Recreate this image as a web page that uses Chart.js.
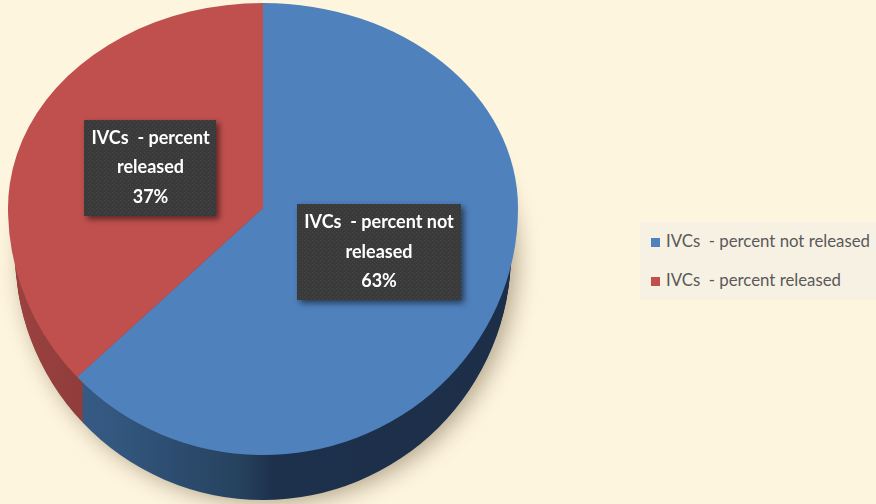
<!DOCTYPE html>
<html><head><meta charset="utf-8">
<script src="https://cdn.jsdelivr.net/npm/chart.js@4"></script>
<style>
html,body{margin:0;padding:0;background:#FEF5DF;}
#wrap{position:relative;width:876px;height:504px;overflow:hidden;background:#FEF5DF;}
#c{position:absolute;left:0;top:0;}
#legend{position:absolute;left:640px;top:222px;width:236px;height:78px;background:#F7F1E3;font-family:Lato,"Open Sans",sans-serif;font-size:16.8px;color:#595959;}
.item{position:absolute;left:11px;white-space:pre;line-height:18px;height:18px;}
.sw{display:inline-block;width:9px;height:9px;margin-right:6px;vertical-align:0px;}
</style>
</head><body>
<div id="wrap"><canvas id="c" width="876" height="504"></canvas><div id="legend"></div></div>
<script>
const categories = ["IVCs  - percent not released", "IVCs  - percent released"];
const values = [63, 37];
const colors = ["#4F81BD", "#C0504D"];

// 3D look: horizontal radius, upper/lower vertical radii (perspective), wall depth
const RX = 255, RX_WALL = 248, RY_UP = 205, RY_DOWN = 247, DEPTH = 45;
const labelPos = [[0.455, 0.178], [-0.441, -0.198]];

function sideFill(ctx, i, r) {
  const g = ctx.createLinearGradient(-r, 0, r, 0);
  if (i === 0) {
    g.addColorStop(0, "#3A6090");
    g.addColorStop(0.2, "#33577F");
    g.addColorStop(0.45, "#26425F");
    g.addColorStop(0.52, "#1E314C");
    g.addColorStop(1, "#1C2E48");
  } else {
    g.addColorStop(0, "#9A4240");
    g.addColorStop(0.2, "#8C3A39");
    g.addColorStop(1, "#7A3131");
  }
  return g;
}

function makePattern(ctx) {
  const p = document.createElement("canvas");
  p.width = 4; p.height = 4;
  const pc = p.getContext("2d");
  pc.fillStyle = "#3A3A3A"; pc.fillRect(0, 0, 4, 4);
  pc.fillStyle = "#484848"; pc.fillRect(0, 0, 1, 1); pc.fillRect(2, 2, 1, 1);
  return ctx.createPattern(p, "repeat");
}

// apply clip + affine transform for one half (upper or lower) of the pie
function halfTransform(chart, ctx, cx, cy, r, upper, dy, rx) {
  const W = chart.width, H = chart.height;
  ctx.beginPath();
  if (upper) ctx.rect(0, -100, W, cy + dy + 100);
  else ctx.rect(0, cy + dy, W, H - cy - dy + 100);
  ctx.clip();
  ctx.translate(cx, cy + dy);
  ctx.scale(rx / r, (upper ? RY_UP : RY_DOWN) / r);
}

const pie3d = {
  id: "pie3d",
  beforeDatasetsDraw(chart) {
    const meta = chart.getDatasetMeta(0);
    const ctx = chart.ctx;
    const a0 = meta.data[0];
    const cx = a0.x, cy = a0.y, r = a0.outerRadius;
    for (let d = DEPTH; d >= 1; d--) {
      [true, false].forEach(upper => {
        ctx.save();
        if (d === DEPTH) {
          ctx.shadowColor = "rgba(90,70,40,0.45)";
          ctx.shadowBlur = 22;
          ctx.shadowOffsetX = 6;
          ctx.shadowOffsetY = 4;
        }
        halfTransform(chart, ctx, cx, cy, r, upper, d, RX_WALL);
        meta.data.forEach((arc, i) => {
          ctx.beginPath();
          ctx.moveTo(0, 0);
          ctx.arc(0, 0, r, arc.startAngle, arc.endAngle);
          ctx.closePath();
          ctx.fillStyle = sideFill(ctx, i, r);
          ctx.fill();
        });
        ctx.restore();
      });
    }
    ctx.save();
    halfTransform(chart, ctx, cx, cy, r, true, 0, RX);
    ctx.translate(-cx, -cy);
  },
  afterDatasetsDraw(chart) {
    const ctx = chart.ctx;
    ctx.restore();
    const meta = chart.getDatasetMeta(0);
    const a0 = meta.data[0];
    const cx = a0.x, cy = a0.y, r = a0.outerRadius;
    ctx.save();
    halfTransform(chart, ctx, cx, cy, r, false, 0, RX);
    ctx.translate(-cx, -cy);
    meta.data.forEach(arc => arc.draw(ctx));
    ctx.restore();
  },
  afterDraw(chart) {
    const meta = chart.getDatasetMeta(0);
    const ctx = chart.ctx;
    const a0 = meta.data[0];
    const cx = a0.x, cy = a0.y;
    const total = values.reduce((s, v) => s + v, 0);
    const pat = makePattern(ctx);
    meta.data.forEach((arc, i) => {
      const cat = categories[i];
      const sp = cat.lastIndexOf(" ");
      const lines = [cat.slice(0, sp), cat.slice(sp + 1), Math.round(values[i] / total * 100) + "%"];
      ctx.save();
      ctx.font = "bold 18px Lato, 'Open Sans', sans-serif";
      const w = Math.max(...lines.map(l => ctx.measureText(l).width)) + 14;
      const lh = 29.5;
      const h = lh * lines.length + 7;
      const fy = labelPos[i][1];
      const px = cx + labelPos[i][0] * RX;
      const py = cy + fy * (fy < 0 ? RY_UP : RY_DOWN);
      ctx.shadowColor = "rgba(0,0,0,0.55)";
      ctx.shadowBlur = 6;
      ctx.shadowOffsetX = 3;
      ctx.shadowOffsetY = 3;
      ctx.fillStyle = pat;
      ctx.fillRect(Math.round(px - w / 2), Math.round(py - h / 2), Math.round(w), Math.round(h));
      ctx.shadowColor = "transparent";
      ctx.fillStyle = "#FFFFFF";
      ctx.textAlign = "center";
      ctx.textBaseline = "middle";
      lines.forEach((l, k) => {
        ctx.fillText(l, px, py - (lines.length - 1) / 2 * lh + k * lh);
      });
      ctx.restore();
    });
  }
};

new Chart(document.getElementById("c"), {
  type: "pie",
  data: {
    labels: categories,
    datasets: [{ data: values, backgroundColor: colors, borderWidth: 0, clip: false }]
  },
  options: {
    responsive: false,
    animation: false,
    layout: { padding: { left: 0, right: 350, top: 0, bottom: 88 } },
    plugins: { legend: { display: false }, tooltip: { enabled: false } }
  },
  plugins: [pie3d]
});

const lg = document.getElementById("legend");
categories.forEach((c, i) => {
  const d = document.createElement("div");
  d.className = "item";
  d.style.top = (10 + i * 39) + "px";
  const s = document.createElement("span");
  s.className = "sw";
  s.style.background = colors[i];
  d.appendChild(s);
  d.appendChild(document.createTextNode(c));
  lg.appendChild(d);
});
</script>
</body></html>
